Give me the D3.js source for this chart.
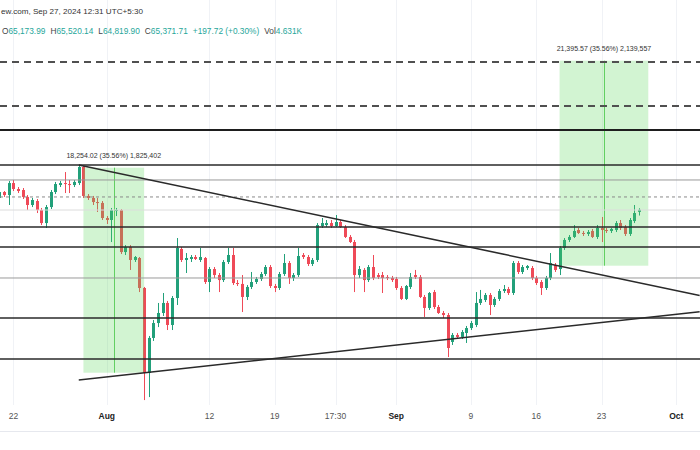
<!DOCTYPE html>
<html><head><meta charset="utf-8">
<script src="https://cdn.jsdelivr.net/npm/d3@7"></script>
<style>body{margin:0;background:#fff}svg{display:block;font-family:"Liberation Sans",Arial,sans-serif}</style>
</head><body><svg id="c" width="700" height="450"></svg>
<script>
// 12-hour candles, first candle opens 2024-07-20 12:00 UTC
const firstCandle = Date.UTC(2024, 6, 20, 12);
const opens = [66530,67120,66820,68020,67420,67320,66630,65840,66230,65350,64100,65640,67120,67820,68020,67920,67820,68020,69660,66730,66530,66130,66040,64580,64390,65260,65350,61400,61860,60680,60860,58210,51310,54050,55260,56090,56930,55100,57350,61680,60680,60770,60950,60680,60860,58730,59870,59340,58900,60500,61130,58640,58560,57440,58300,58730,58990,59430,60050,58380,58210,59430,60410,59080,59340,61130,60950,60320,60680,63820,63910,64100,63820,64200,63720,62790,62320,59340,59790,58900,60050,59340,59340,59170,59080,58990,58210,57270,58300,59340,59170,57440,56510,57860,56590,56090,55920,53730,54290,54130,54450,54850,55100,56930,57180,57610,56760,57270,57950,58120,57780,60410,59610,59960,59960,59080,58730,58210,59080,60230,59870,61770,62510,62790,63440,63160,63070,63350,62790,63630,63440,63350,63440,64100,63720,63070,64290,65173.99];
const highs = [67320,67220,68230,68330,67620,67520,66820,66530,66430,65550,65840,67320,68130,68230,69140,68330,68330,69870,69760,66920,66730,66530,66230,64770,65550,65550,65450,62040,62040,61040,60950,58300,54210,55510,56930,57780,57100,57520,62690,61860,61310,61130,61130,61770,60950,60050,60050,59520,60680,61770,61770,58900,59340,58470,59610,59170,59610,60230,60230,58560,59610,61220,60590,59520,61770,61310,61130,60860,64100,64580,64390,64390,64870,64390,63910,62970,62510,60140,59960,60230,61130,59520,59610,59340,59260,59170,58380,58470,59520,59790,59340,57610,57860,58040,56760,56260,56090,54450,54450,54690,55020,55430,57860,58040,57780,57780,57440,58120,58470,58300,60590,60590,60230,60230,60140,59260,58900,59260,61310,60410,61950,62690,62970,63910,63630,63350,63440,63540,63910,64680,63630,63630,64290,64390,63910,64580,65840,65520.14];
const lows = [66330,66630,65840,67220,67020,66430,65350,65640,65060,63910,63630,65450,66920,67620,67020,67020,67620,67820,66530,66330,65840,65160,64390,64010,62320,64770,61220,61130,59790,60500,57860,49290,49510,53810,54930,55840,54690,54690,56760,60500,59520,60500,60680,60500,58560,57860,59080,57860,58730,60320,58470,58380,56170,57180,58120,58560,58820,59260,58210,57860,58040,59260,58560,58820,59170,60770,60140,60140,60500,63630,63720,63630,63720,63630,62690,62230,57860,59080,57860,58730,58900,58990,57780,58900,58730,58040,57180,57180,58120,58990,57350,55760,56340,56420,56010,55670,52540,53490,53970,53970,53650,54690,54930,56760,57010,55920,56590,57100,57780,57610,57610,59430,59430,59790,58900,58470,57610,58040,58900,59610,59340,61590,62320,62690,63070,62880,62880,62690,62600,62320,63160,63160,63250,63440,62880,62880,64100,64819.90];
const closes = [67120,66820,68020,67420,67220,66630,65840,66330,65350,64100,65640,67120,67920,68020,67920,67820,68130,69660,66730,66530,66130,66040,64580,64390,65350,65350,61400,61860,60680,60950,58210,51310,54050,55260,56090,56930,55100,57350,61770,60680,60860,60950,60770,60950,58730,59870,59340,58900,60500,61130,58640,58560,57440,58300,58730,58990,59430,60050,58380,58210,59430,60410,59080,59340,61040,60950,60320,60680,63910,64100,64100,63820,64200,63720,62790,62320,59340,59870,58900,60050,59080,59170,59080,59080,58900,58210,57270,58380,59170,59170,57440,56510,57780,56590,56090,55920,53250,54290,54130,54530,54850,55260,56930,57270,57610,56760,57270,57950,58120,57780,60410,59610,60050,60140,59080,58640,58210,59080,60410,59790,61770,62510,62790,63350,63160,63070,63250,62790,63630,63440,63350,63540,64100,63630,63070,64390,65060,65371.71];

// horizontal levels drawn on the chart
const dashedLevels = [81400, 76260];
const heavyLevels = [73590];
const blackLevels = [69870, 63720, 61860, 55670, 52390];
const grayLevels = [68330, 59080];
const dottedLevels = [66630];
const faintLevels = [65350];

// trend lines [start date, start price, end date, end price]
const trendStarts = [Date.UTC(2024,6,29,0), Date.UTC(2024,6,29,0)];
const trendStartPrices = [69870, 50780];
const trendEnds = [Date.UTC(2024,9,3,12), Date.UTC(2024,9,3,12)];
const trendEndPrices = [57570, 56190];

// price range measurement boxes
const boxStarts = [Date.UTC(2024,6,29,12), Date.UTC(2024,8,18,12)];
const boxEnds = [Date.UTC(2024,7,5,0), Date.UTC(2024,8,28,0)];
const boxLows = [51333.0, 60167.5];
const boxHighs = [69587.02, 81563.07];
const boxLabels = ["18,254.02 (35.56%) 1,825,402", "21,395.57 (35.56%) 2,139,557"];

// time axis
const tickDates = [Date.UTC(2024,6,22),Date.UTC(2024,7,1),Date.UTC(2024,7,12),Date.UTC(2024,7,19),Date.UTC(2024,7,25,12),Date.UTC(2024,8,1),Date.UTC(2024,8,9),Date.UTC(2024,8,16),Date.UTC(2024,8,23),Date.UTC(2024,9,1)];
const tickLabels = ["22","Aug","12","19","17:30","Sep","9","16","23","Oct"];
const tickBold = [false,true,false,false,false,true,false,false,false,true];

const headerLine = "ew.com, Sep 27, 2024 12:31 UTC+5:30";
const ohlcLabels = ["O","H","L","C","","Vol"];
const ohlcValues = ["65,173.99","65,520.14","64,819.90","65,371.71","+197.72 (+0.30%)","4.631K"];

const svg = d3.select("#c");
const W = 700;
const x = d3.scaleUtc().domain([new Date(Date.UTC(2024,6,22)), new Date(Date.UTC(2024,9,1))]).range([13.4, 676.3]);
const y = d3.scaleLog().domain([51333.0, 69587.02]).range([372.7, 167.7]);
const HALF_DAY = 12*3600*1000;
const candles = opens.map((o,i)=>({t:new Date(firstCandle + i*HALF_DAY), o, h:highs[i], l:lows[i], c:closes[i]}));

// vertical grid
svg.append("g").selectAll("line").data(tickDates).join("line")
  .attr("x1",d=>Math.round(x(d))+0.5).attr("x2",d=>Math.round(x(d))+0.5)
  .attr("y1",0).attr("y2",405).attr("stroke","#f0f2f6").attr("stroke-width",1);

// candles
const up = "#22a07a", down = "#ef4a58";
const cg = svg.append("g");
candles.forEach(d=>{
  const cx = Math.round(x(d.t));
  const col = d.c >= d.o ? up : down;
  cg.append("rect").attr("x",cx).attr("width",1)
    .attr("y",y(d.h)).attr("height",Math.max(1,y(d.l)-y(d.h))).attr("fill",col);
  const top = y(Math.max(d.o,d.c)), bot = y(Math.min(d.o,d.c));
  cg.append("rect").attr("x",cx-1).attr("width",3)
    .attr("y",top).attr("height",Math.max(1,bot-top)).attr("fill",col);
});

// boxes
boxStarts.forEach((s,i)=>{
  const x0 = x(new Date(s)), x1 = x(new Date(boxEnds[i]));
  const y0 = y(boxHighs[i]), y1 = y(boxLows[i]);
  svg.append("rect").attr("x",x0).attr("y",y0).attr("width",x1-x0).attr("height",y1-y0)
    .attr("fill","rgba(90,215,90,0.27)");
  const xm = Math.round((x0+x1)/2)+0.5;
  svg.append("line").attr("x1",xm).attr("x2",xm).attr("y1",y0).attr("y2",y1)
    .attr("stroke","#62cf62").attr("stroke-width",1);
  svg.append("text").attr("x",(x0+x1)/2).attr("y",y0-10).attr("text-anchor","middle")
    .attr("font-size",7).attr("fill","#333").text(boxLabels[i]);
});

// levels
function levels(arr, color, width, dash){
  svg.append("g").selectAll("line").data(arr).join("line")
    .attr("x1",0).attr("x2",W).attr("y1",d=>y(d)).attr("y2",d=>y(d))
    .attr("stroke",color).attr("stroke-width",width).attr("stroke-dasharray",dash||null);
}
levels(faintLevels, "#dcdcdc", 1);
levels(grayLevels, "#9a9a9a", 1);
levels(dottedLevels, "#8a8a8a", 1, "3,3");
levels(blackLevels, "#2a2a2a", 1.5);
levels(heavyLevels, "#1e1e1e", 2);
levels(dashedLevels, "#505050", 2, "7,5");

// trend lines
trendStarts.forEach((s,i)=>{
  svg.append("line").attr("x1",x(new Date(s))).attr("y1",y(trendStartPrices[i]))
    .attr("x2",x(new Date(trendEnds[i]))).attr("y2",y(trendEndPrices[i]))
    .attr("stroke","#2a2a2a").attr("stroke-width",1.5);
});

// time axis
svg.append("line").attr("x1",0).attr("x2",W).attr("y1",431.5).attr("y2",431.5).attr("stroke","#e6e8ee");
svg.append("g").selectAll("text").data(tickDates).join("text")
  .attr("x",d=>x(d)).attr("y",419).attr("text-anchor","middle")
  .attr("font-size",8.5).attr("font-weight",(d,i)=>tickBold[i]?"bold":"normal")
  .attr("fill",(d,i)=>tickBold[i]?"#222":"#555").text((d,i)=>tickLabels[i]);

// header
svg.append("text").attr("x",1).attr("y",14).attr("font-size",8.1).attr("fill","#333").text(headerLine);
const ht = svg.append("text").attr("x",2).attr("y",34).attr("font-size",8.3);
ohlcLabels.forEach((l,i)=>{
  const gap = i===0 ? 0 : 5;
  if (l) ht.append("tspan").attr("fill","#444").attr("dx", gap).text(l);
  ht.append("tspan").attr("fill","#26a69a").attr("dx", l ? 0 : gap).text(ohlcValues[i]);
});
</script></body></html>
